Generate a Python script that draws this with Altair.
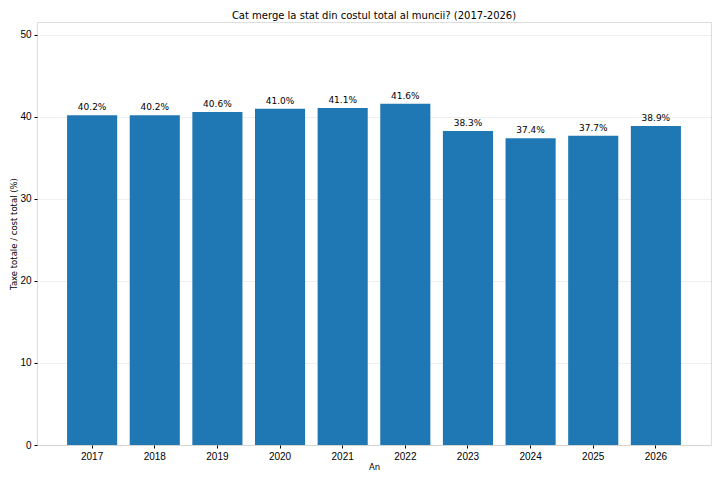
import altair as alt
import pandas as pd

years = ["2017", "2018", "2019", "2020", "2021", "2022", "2023", "2024", "2025", "2026"]
shares = [40.2, 40.2, 40.6, 41.0, 41.1, 41.6, 38.3, 37.4, 37.7, 38.9]

df = pd.DataFrame({"An": years, "Pondere": shares})
df["Eticheta"] = [f"{v:.1f}%" for v in shares]

FONT = "DejaVu Sans"

x = alt.X("An:N", title="An", sort=years,
          scale=alt.Scale(paddingInner=0.2, paddingOuter=0.48),
          axis=alt.Axis(labelAngle=0, grid=False, tickSize=3, tickColor="#000",
                        domain=False, labelPadding=3, titlePadding=1,
                        titleFontWeight="normal", titleFont=FONT, titleFontSize=8.5))
y = alt.Y("Pondere:Q", title="Taxe totale / cost total (%)",
          scale=alt.Scale(domain=[0, 51.58], nice=False, zero=True),
          axis=alt.Axis(values=[0, 10, 20, 30, 40, 50], grid=True, gridColor="#b0b0b0",
                        gridOpacity=0.3, gridWidth=0.7, tickSize=3, tickColor="#000",
                        domain=False, labelPadding=3, titlePadding=1,
                        titleFontWeight="normal", titleFont=FONT, titleFontSize=8.5))

bars = alt.Chart(df).mark_bar(color="#1f77b4").encode(x=x, y=y)
labels = alt.Chart(df).mark_text(baseline="bottom", dy=-3, font=FONT, fontSize=9,
                                 color="#000").encode(
    x=alt.X("An:N", sort=years), y="Pondere:Q", text="Eticheta:N")

chart = alt.layer(bars, labels).properties(
    width=674, height=423,
    title=alt.TitleParams("Cat merge la stat din costul total al muncii? (2017-2026)",
                          font=FONT, fontSize=10, fontWeight="normal", color="#000",
                          anchor="middle", offset=1),
    autosize=alt.AutoSizeParams(type="none"),
    padding={"left": 29, "top": 14, "right": 1, "bottom": 34},
).configure_view(stroke="#000", strokeWidth=0.8).configure_axis(
    labelFont=FONT, labelFontSize=8.5, labelColor="#000", titleColor="#000"
).configure(background="white")

chart.save("out.html", embed_options={"renderer": "svg", "actions": False})
